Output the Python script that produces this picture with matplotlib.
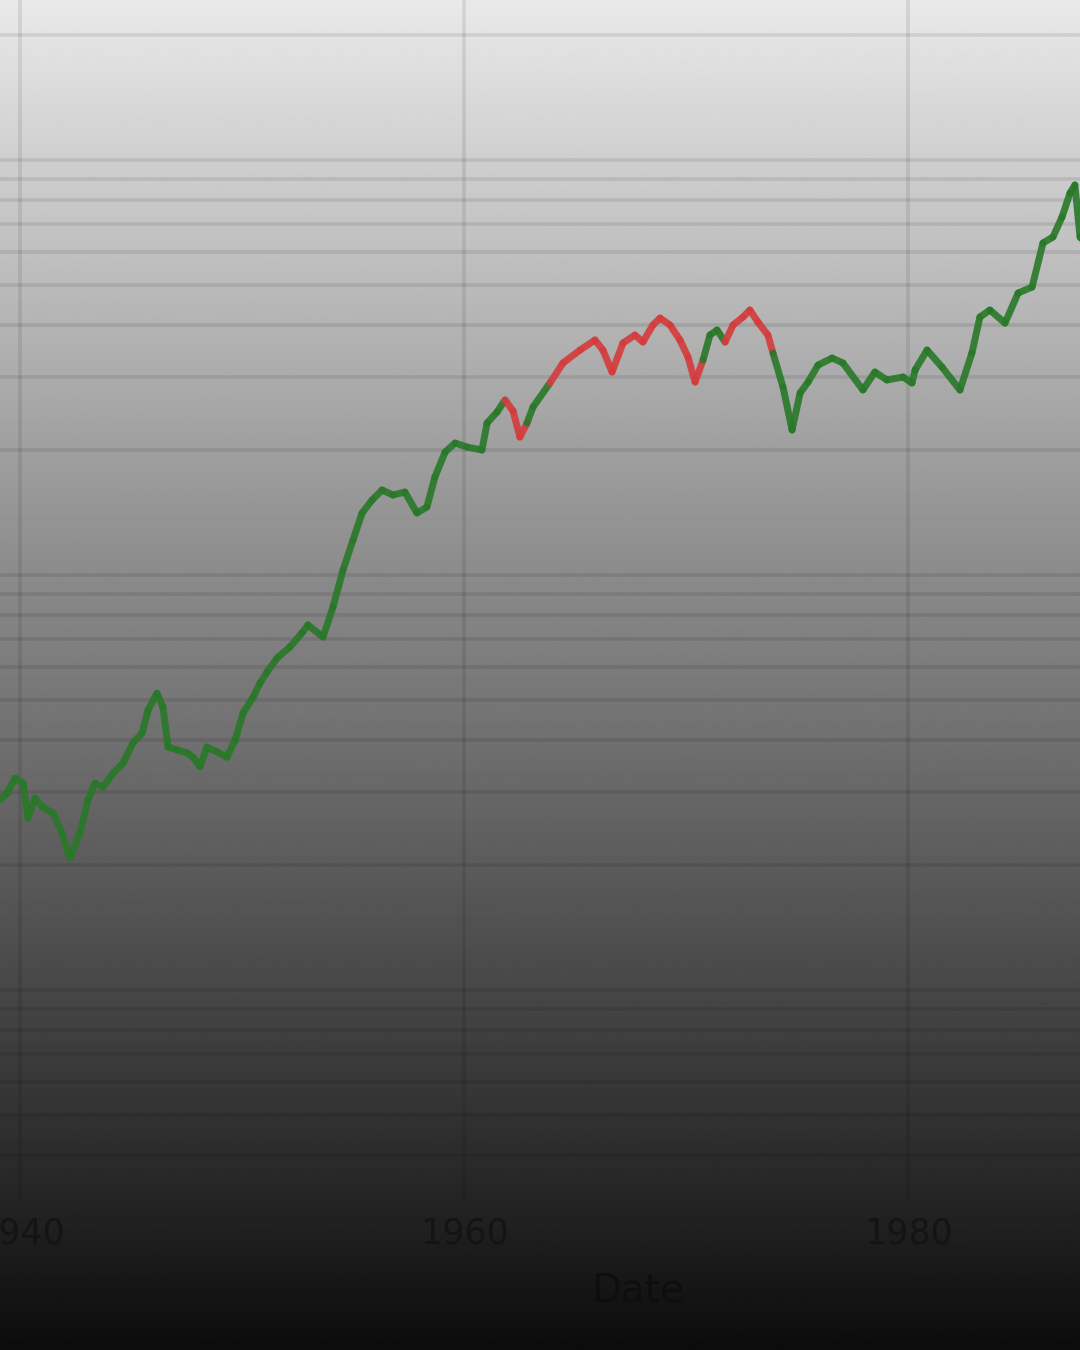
import matplotlib
matplotlib.use("Agg")
import matplotlib.pyplot as plt
import numpy as np
from matplotlib.collections import LineCollection
from matplotlib.ticker import FixedLocator, FuncFormatter, LogLocator, NullFormatter

# decimal years and index level
years = [
    1939.10, 1939.42, 1939.78, 1940.14, 1940.36, 1940.68, 1941.04, 1941.49, 1941.89, 1942.25,
    1942.70, 1943.06, 1943.38, 1943.74, 1944.19, 1944.64, 1945.09, 1945.50, 1945.77, 1946.17,
    1946.44, 1946.67, 1947.07, 1947.52, 1947.79, 1948.11, 1948.42, 1948.87, 1949.32, 1949.69,
    1950.05, 1950.50, 1950.81, 1951.13, 1951.58, 1952.16, 1952.70, 1952.97, 1953.65, 1954.10,
    1954.55, 1955.00, 1955.41, 1955.86, 1956.31, 1956.80, 1957.34, 1957.88, 1958.33, 1958.69,
    1959.15, 1959.60, 1960.14, 1960.81, 1961.04, 1961.49, 1961.85, 1962.21, 1962.52, 1962.84,
    1963.11, 1963.87, 1964.46, 1965.23, 1965.90, 1966.26, 1966.67, 1967.16, 1967.70, 1968.06,
    1968.51, 1968.83, 1969.28, 1969.73, 1970.09, 1970.41, 1970.77, 1971.08, 1971.40, 1971.76,
    1972.12, 1972.57, 1972.88, 1973.24, 1973.69, 1973.92, 1974.37, 1974.78, 1975.14, 1975.50,
    1975.95, 1976.58, 1977.07, 1977.97, 1978.51, 1979.05, 1979.78, 1980.18, 1980.32, 1980.86,
    1981.53, 1982.34, 1982.88, 1983.24, 1983.69, 1984.37, 1984.96, 1985.59, 1986.08, 1986.53,
    1986.94, 1987.30, 1987.52, 1987.75, 1988.20,
]
level = [
    28.7, 29.8, 32.4, 31.5, 26.0, 29.0, 27.5, 26.7, 23.9, 20.8,
    23.9, 28.7, 31.5, 30.8, 33.3, 35.2, 39.4, 41.6, 47.3, 51.9,
    48.1, 38.5, 37.9, 37.3, 36.4, 34.5, 38.5, 37.5, 36.4, 40.0,
    46.5, 50.8, 54.9, 58.4, 63.1, 67.1, 72.5, 75.8, 70.9, 83.7,
    102.8, 121.4, 141.1, 151.6, 160.3, 155.9, 158.5, 141.1, 145.8, 172.2,
    197.9, 208.0, 203.4, 200.1, 232.4, 247.1, 264.1, 248.5, 215.0, 232.4,
    254.0, 290.2, 324.3, 348.5, 368.4, 348.5, 308.5, 362.2, 378.7, 364.3,
    400.3, 416.2, 400.3, 368.4, 335.2, 291.8, 329.8, 378.7, 389.4, 364.3,
    400.3, 418.5, 435.1, 406.9, 378.7, 342.7, 283.8, 223.6, 274.6, 291.8,
    320.6, 333.3, 324.3, 279.2, 308.5, 295.1, 300.0, 290.2, 311.9, 348.5,
    317.1, 279.2, 342.7, 418.5, 435.1, 404.7, 478.0, 494.3, 631.0, 652.4,
    729.0, 832.9, 870.7, 652.4, 606.0,
]
# periods drawn in red (start, end)
red_spans = [(1961.80, 1962.90), (1963.80, 1970.85), (1971.70, 1973.85)]
xticks = [1940, 1960, 1980]

fig = plt.figure(figsize=(10.8, 13.5), dpi=100)

# grey-to-black vertical gradient behind everything
bg = fig.add_axes([0, 0, 1, 1], zorder=0)
grad = np.linspace(233, 12, 512).reshape(-1, 1)
bg.imshow(grad, cmap="gray", vmin=0, vmax=255, aspect="auto", extent=[0, 1, 0, 1])
bg.axis("off")

ax = fig.add_axes([0, 150 / 1350, 1, 1200 / 1350], zorder=1)
ax.set_facecolor("none")

pts = np.column_stack([years, level])
segs = np.stack([pts[:-1], pts[1:]], axis=1)
mids = (np.array(years[:-1]) + np.array(years[1:])) / 2
is_red = [any(a <= m <= b for a, b in red_spans) for m in mids]
colors = [(0.83, 0.24, 0.24, 0.92) if r else (0.16, 0.47, 0.16, 0.9) for r in is_red]
lc = LineCollection(segs, colors=colors, linewidths=5, capstyle="round", joinstyle="round")
ax.add_collection(lc)

ax.set_yscale("log")
ax.set_xlim(1939.1, 1939.1 + 1080 / 22.2)
ax.set_ylim(3.12, 2430)

ax.yaxis.set_major_locator(LogLocator(base=10))
ax.yaxis.set_minor_locator(LogLocator(base=10, subs=np.arange(2, 10)))
ax.yaxis.set_major_formatter(NullFormatter())
ax.yaxis.set_minor_formatter(NullFormatter())
ax.xaxis.set_major_locator(FixedLocator(xticks))
ax.xaxis.set_major_formatter(FuncFormatter(lambda v, p: f"{int(v)}"))

ax.grid(True, which="both", axis="y", color="k", alpha=0.09, lw=2.6)
ax.grid(True, which="major", axis="x", color="k", alpha=0.09, lw=2.6)
ax.tick_params(axis="both", which="both", length=0)
ax.tick_params(axis="x", pad=12, labelsize=25, labelcolor="#141414")
for s in ax.spines.values():
    s.set_visible(False)

ax.set_xlabel("Date", fontsize=28, color="#0e0e0e")
ax.xaxis.set_label_coords(638 / 1080, -0.060)

plt.savefig("out.png", dpi=100)
plt.close(fig)
